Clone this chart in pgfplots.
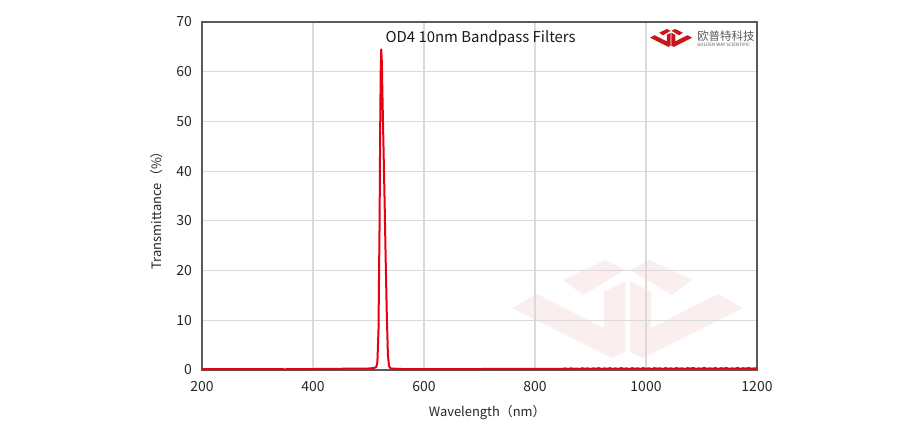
\documentclass[border=0pt]{standalone}
\usepackage{fontspec}
\setmainfont{Noto Sans CJK SC}
\usepackage{pgfplots}
\pgfplotsset{compat=1.18}
\definecolor{curve}{RGB}{230,0,18}
\definecolor{gridc}{RGB}{218,218,218}
\definecolor{framec}{RGB}{90,90,90}
\definecolor{wm}{RGB}{250,238,238}
\definecolor{logored}{RGB}{200,22,29}
\definecolor{logogray}{RGB}{90,90,90}
\newcommand{\logoshape}{%
  (0,48) -- (25,34) -- (92,68) -- (92,32) -- (113,21) -- (113,92) -- (100,98) -- cycle
  (51,20) -- (93,0) -- (113,10) -- (71,35) -- cycle
  (231,48) -- (206,34) -- (139,68) -- (139,32) -- (118,21) -- (118,92) -- (131,98) -- cycle
  (180,20) -- (138,0) -- (118,10) -- (160,35) -- cycle
}
\begin{document}
\begin{tikzpicture}[x=0.75pt,y=-0.75pt]
\useasboundingbox (-202,70) rectangle (722,-370);
\begin{scope}[shift={(512-202,260-370)}]
  \fill[wm] \logoshape;
\end{scope}
\begin{axis}[
  at={(0,0)}, anchor=south west,
  scale only axis, width=416.25pt, height=261pt,
  xmin=200, xmax=1200, ymin=0, ymax=70,
  xtick={200,400,...,1200}, ytick={0,10,...,70},
  grid=major, grid style={gridc, line width=0.8pt},
  axis line style={framec, line width=0.8pt},
  tick style={draw=none},
  /pgf/number format/assume math mode=true,
  /pgf/number format/1000 sep={},
  ticklabel style={font=\fontsize{10.5pt}{12pt}\selectfont, text=black!85},
  xticklabel style={yshift=-5pt},
  yticklabel style={xshift=-4pt},
  xlabel={Wavelength（nm）}, ylabel={Transmittance（\%）},
  label style={font=\fontsize{9.7pt}{11pt}\selectfont, text=black!85},
  xlabel style={at={(axis description cs:0.514,-0.1236)}, anchor=center},
  ylabel style={at={(axis description cs:-0.081,0.468)}, anchor=center},
  clip=true,
]
\addplot[curve, line width=1.5pt, line join=round] coordinates {
(200,0.15) (250,0.2) (300,0.18) (350,0.15) (400,0.2) (450,0.25) (500,0.3) (510,0.4)
(514,0.6) (516,1.5) (518,8) (520,30) (521,48) (522,60) (523,64.5) (524,62) (525,56)
(527,45) (529,34) (531,22) (533,11) (535,3) (537,0.8) (540,0.3) (560,0.2) (600,0.2)
(700,0.2) (800,0.25) (850,0.25) (855,0.32) (860,0.2) (865,0.35) (870,0.22) (875,0.3)
(880,0.18) (885,0.36) (890,0.25) (895,0.33) (900,0.2) (905,0.35) (910,0.25) (915,0.38)
(920,0.2) (925,0.33) (930,0.25) (935,0.37) (940,0.22) (945,0.35) (950,0.2) (955,0.38)
(960,0.25) (965,0.33) (970,0.2) (975,0.37) (980,0.25) (985,0.35) (990,0.22) (995,0.38)
(1000,0.25) (1005,0.35) (1010,0.2) (1015,0.37) (1020,0.28) (1025,0.35) (1030,0.2)
(1035,0.38) (1040,0.25) (1045,0.33) (1050,0.22) (1055,0.38) (1060,0.25) (1065,0.35)
(1070,0.2) (1075,0.37) (1080,0.28) (1085,0.4) (1090,0.22) (1095,0.35) (1100,0.25)
(1105,0.42) (1110,0.22) (1115,0.35) (1120,0.25) (1125,0.4) (1130,0.2) (1135,0.37)
(1140,0.28) (1145,0.4) (1150,0.22) (1155,0.35) (1160,0.25) (1165,0.42) (1170,0.22)
(1175,0.37) (1180,0.28) (1185,0.4) (1190,0.25) (1195,0.35) (1200,0.28)
};
\node[font=\fontsize{11.2pt}{13pt}\selectfont, text=black!90] at (axis cs:702,66.8) {OD4 10nm Bandpass Filters};
\end{axis}
\begin{scope}[shift={(650-202,29-370)}, scale=0.182]
  \fill[logored] \logoshape;
\end{scope}
\node[anchor=west, inner sep=0, text=logogray, font=\fontsize{8.6pt}{9pt}\selectfont] at (697-202,36-370) {欧普特科技};
\node[anchor=west, inner sep=0, text=logogray, font=\fontsize{3.4pt}{4pt}\selectfont] at (697-202,44.5-370) {GOLDEN WAY SCIENTIFIC};
\end{tikzpicture}
\end{document}
